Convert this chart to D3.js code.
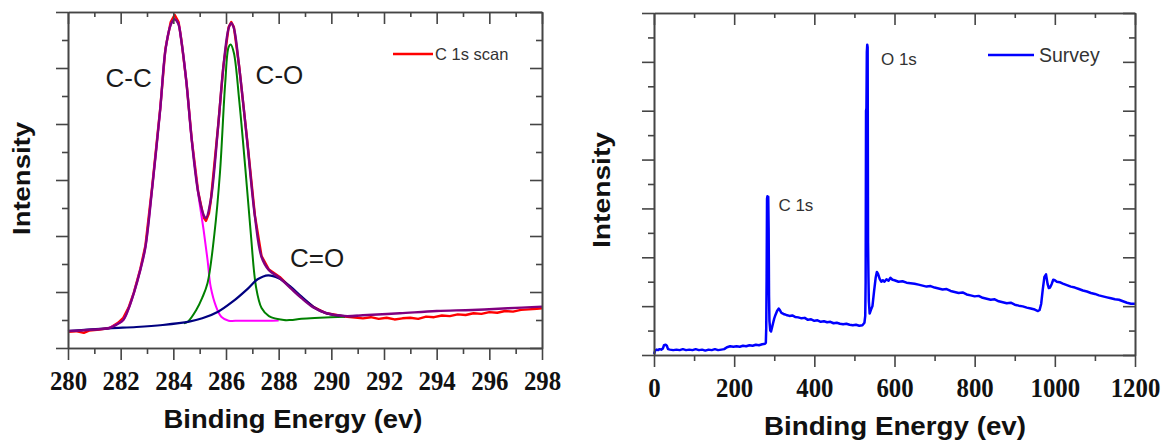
<!DOCTYPE html>
<html>
<head>
<meta charset="utf-8">
<script src="https://cdn.jsdelivr.net/npm/d3@7"></script>
<style>
  html, body { margin: 0; padding: 0; background: #ffffff; }
  svg { display: block; }
</style>
</head>
<body>
<svg id="chart" width="1176" height="444"></svg>
<script>
// ---------------- DATA ----------------
// Left panel: high-resolution C 1s scan (binding energy in eV, intensity in a.u.)
const c1sScan = [
  [280.0,0.29],[280.3,0.30],[280.6,0.27],[280.8,0.31],[281.2,0.33],[281.6,0.36],[281.9,0.45],
  [282.1,0.54],[282.3,0.72],[282.5,0.99],[282.75,1.42],[282.94,1.83],[283.2,2.90],[283.5,4.27],
  [283.7,5.35],[283.9,5.82],[284.05,5.95],[284.2,5.82],[284.3,5.52],[284.5,4.74],[284.7,3.72],
  [284.94,2.80],[285.15,2.33],[285.24,2.27],[285.35,2.40],[285.42,2.62],[285.7,3.96],[285.9,5.03],
  [286.1,5.73],[286.2,5.82],[286.3,5.73],[286.5,5.03],[286.8,3.73],[287.1,2.36],[287.35,1.64],
  [287.63,1.40],[288.04,1.27],[288.45,1.08],[288.87,0.90],[289.3,0.74],[289.8,0.62],[290.2,0.59],
  [290.5,0.56],[290.8,0.55],[291.2,0.53],[291.5,0.55],[291.8,0.52],[292.1,0.54],[292.4,0.51],
  [292.7,0.53],[293.0,0.54],[293.3,0.52],[293.6,0.56],[293.9,0.55],[294.2,0.58],[294.5,0.57],
  [294.8,0.60],[295.1,0.59],[295.4,0.62],[295.7,0.61],[296.0,0.64],[296.3,0.63],[296.6,0.66],
  [296.9,0.65],[297.2,0.68],[297.5,0.69],[297.8,0.70],[298.0,0.71]
];
// Fitted envelope (sum of components)
const fitEnvelope = [
  [280.0,0.304],[280.5,0.312],[281.0,0.33],[281.56,0.357],[281.85,0.42],[282.1,0.50],[282.3,0.70],
  [282.5,0.98],[282.75,1.40],[282.94,1.80],[283.2,2.87],[283.5,4.25],[283.7,5.32],[283.9,5.77],
  [284.04,5.87],[284.18,5.80],[284.3,5.50],[284.5,4.73],[284.7,3.71],[284.94,2.79],[285.15,2.375],
  [285.24,2.32],[285.42,2.64],[285.7,3.95],[285.9,5.02],[286.1,5.71],[286.2,5.80],[286.3,5.71],
  [286.5,5.02],[286.8,3.71],[287.1,2.34],[287.35,1.625],[287.63,1.39],[288.04,1.25],[288.45,1.07],
  [288.87,0.89],[289.3,0.73],[289.8,0.625],[290.5,0.571],[291.2,0.584],[292.6,0.62],[294.0,0.661],
  [295.35,0.679],[296.7,0.709],[298.0,0.738]
];
// C-C component
const peakCC = [
  [281.56,0.357],[281.85,0.42],[282.1,0.50],[282.3,0.70],[282.5,0.98],[282.75,1.40],[282.94,1.80],
  [283.2,2.87],[283.5,4.25],[283.7,5.32],[283.9,5.77],[284.04,5.87],[284.18,5.80],[284.3,5.50],
  [284.5,4.73],[284.7,3.71],[284.94,2.77],[285.15,2.107],[285.3,1.571],[285.42,1.089],[285.63,0.732],
  [285.83,0.554],[286.1,0.488],[286.5,0.488],[287.0,0.488],[287.6,0.488],[288.0,0.49]
];
// C-O component
const peakCO = [
  [284.4,0.44],[284.55,0.47],[284.87,0.679],[285.1,0.90],[285.3,1.161],[285.56,2.04],[285.77,3.125],
  [285.97,4.73],[286.1,5.375],[286.18,5.42],[286.3,5.268],[286.5,4.43],[286.73,3.23],[286.94,2.054],
  [287.14,1.089],[287.35,0.714],[287.63,0.571],[288.2,0.50],[288.45,0.50],[288.87,0.523],
  [289.56,0.54],[290.52,0.559]
];
// C=O component (on background)
const peakCdO = [
  [280.0,0.304],[281.56,0.352],[282.6,0.375],[283.6,0.411],[284.6,0.470],[285.1,0.530],[285.7,0.648],
  [286.25,0.827],[286.8,1.048],[287.2,1.227],[287.6,1.298],[288.0,1.245],[288.45,1.095],[288.87,0.916],
  [289.4,0.709],[289.8,0.620],[290.5,0.571],[291.0,0.575]
];
const leftXTicks = [280, 282, 284, 286, 288, 290, 292, 294, 296, 298];
const leftPeakLabels = [["C-C", 282.3, 4.66], ["C-O", 288.03, 4.71], ["C=O", 289.46, 1.45]];
const leftLegend = "C 1s scan";

// Right panel: survey spectrum
const survey = [
  [0,0.02],[3,0.09],[6,0.11],[10,0.10],[14,0.12],[18,0.11],[22,0.13],[25,0.20],[29,0.21],[32,0.19],
  [35,0.12],[40,0.11],[48,0.10],[56,0.11],[64,0.10],[72,0.12],[80,0.10],[88,0.11],[96,0.10],[104,0.12],
  [112,0.10],[120,0.11],[128,0.09],[136,0.11],[144,0.10],[152,0.12],[160,0.10],[168,0.11],[175,0.12],
  [182,0.16],[190,0.18],[198,0.17],[206,0.18],[214,0.17],[222,0.19],[230,0.18],[238,0.20],[246,0.19],
  [254,0.21],[262,0.20],[270,0.22],[277,0.23],[279,0.25],[280,0.55],[281,1.6],[282,3.2],[283,3.25],
  [284,3.0],[285,3.24],[286,2.6],[287,1.2],[288,0.7],[290,0.50],[292,0.48],[294,0.55],[297,0.65],
  [300,0.75],[303,0.82],[307,0.90],[311,0.95],[314,0.92],[318,0.86],[323,0.84],[330,0.82],[338,0.80],
  [345,0.81],[352,0.78],[360,0.77],[368,0.75],[376,0.76],[384,0.72],[392,0.73],[400,0.70],[408,0.71],
  [416,0.68],[424,0.69],[432,0.67],[440,0.68],[448,0.65],[456,0.66],[464,0.64],[472,0.63],[480,0.64],
  [488,0.62],[496,0.61],[504,0.62],[512,0.60],[520,0.61],[525,0.66],[527,0.80],[528,1.5],[529,5.0],
  [530,5.05],[531,6.2],[532,6.35],[533,6.3],[534,2.3],[535,1.6],[536,1.1],[538,0.85],[541,0.92],
  [545,1.00],[549,1.30],[553,1.58],[556,1.70],[559,1.66],[563,1.56],[567,1.50],[571,1.53],[575,1.50],
  [580,1.55],[585,1.52],[590,1.58],[595,1.54],[600,1.53],[610,1.50],[620,1.51],[630,1.48],[640,1.47],
  [650,1.46],[660,1.44],[670,1.42],[680,1.40],[690,1.41],[700,1.38],[710,1.36],[720,1.34],[730,1.35],
  [740,1.31],[750,1.29],[760,1.27],[770,1.28],[780,1.24],[790,1.22],[800,1.20],[810,1.21],[820,1.17],
  [830,1.15],[840,1.13],[850,1.14],[860,1.10],[870,1.08],[880,1.06],[890,1.07],[900,1.03],[910,1.01],
  [920,0.995],[930,0.97],[940,0.95],[950,0.93],[958,0.90],[962,0.92],[966,1.05],[970,1.35],[974,1.60],
  [978,1.65],[982,1.45],[985,1.37],[988,1.38],[992,1.45],[996,1.54],[1000,1.53],[1005,1.50],[1012,1.49],
  [1020,1.46],[1030,1.43],[1040,1.40],[1050,1.38],[1060,1.35],[1070,1.32],[1080,1.30],[1090,1.27],
  [1100,1.25],[1110,1.22],[1120,1.20],[1130,1.18],[1140,1.16],[1150,1.14],[1160,1.13],[1170,1.10],
  [1180,1.07],[1190,1.05],[1200,1.05]
];
const rightXTicks = [0, 200, 400, 600, 800, 1000, 1200];
const rightPeakLabels = [["C 1s", 354, 2.95], ["O 1s", 611, 5.94]];
const rightLegend = "Survey";

const xTitle = "Binding Energy (ev)";
const yTitle = "Intensity";

// ---------------- DRAWING ----------------
const svg = d3.select("#chart");
svg.append("rect").attr("width", 1176).attr("height", 444).attr("fill", "#fff");

const AXIS = "#454545";
const SERIF = '"Liberation Serif", "Times New Roman"';
const SANS = '"Liberation Sans", Arial';

function styleAxis(sel) {
  sel.select(".domain").attr("stroke", AXIS).attr("stroke-width", 1.6);
  sel.selectAll(".tick line").attr("stroke", AXIS).attr("stroke-width", 1.6);
}

function drawFrame(g, x, y, box, xMajor, xMinor, yMajor, yMinor) {
  // bottom axis with labels
  const b = g.append("g").attr("transform", `translate(0,${box.bottom})`)
    .call(d3.axisBottom(x).tickValues(xMajor).tickSize(12).tickSizeOuter(0).tickFormat(d3.format("d")));
  styleAxis(b);
  b.selectAll("text")
    .attr("y", 42).attr("dy", 0)
    .attr("textLength", d => String(d).length * 12.4)
    .attr("lengthAdjust", "spacingAndGlyphs")
    .style("font-family", SERIF)
    .style("font-weight", "bold").style("font-size", "27px").style("fill", "#111");
  const bm = g.append("g").attr("transform", `translate(0,${box.bottom})`)
    .call(d3.axisBottom(x).tickValues(xMinor).tickSize(6).tickSizeOuter(0).tickFormat(""));
  styleAxis(bm);
  // top mirror axis (ticks pointing into the plot)
  const t = g.append("g").attr("transform", `translate(0,${box.top})`)
    .call(d3.axisBottom(x).tickValues(xMajor).tickSize(12).tickSizeOuter(0).tickFormat(""));
  styleAxis(t);
  const tm = g.append("g").attr("transform", `translate(0,${box.top})`)
    .call(d3.axisBottom(x).tickValues(xMinor).tickSize(5).tickSizeOuter(0).tickFormat(""));
  styleAxis(tm);
  // left axis (outward) and right mirror axis (inward) - no labels
  [box.left, box.right].forEach(px => {
    const l = g.append("g").attr("transform", `translate(${px},0)`)
      .call(d3.axisLeft(y).tickValues(yMajor).tickSize(12).tickSizeOuter(0).tickFormat(""));
    styleAxis(l);
    const lm = g.append("g").attr("transform", `translate(${px},0)`)
      .call(d3.axisLeft(y).tickValues(yMinor).tickSize(6).tickSizeOuter(0).tickFormat(""));
    styleAxis(lm);
  });
  // titles
  g.append("text").attr("x", box.xTitleX).attr("y", box.bottom + 80)
    .attr("text-anchor", "middle")
    .attr("textLength", box.xTitleLen).attr("lengthAdjust", "spacingAndGlyphs")
    .style("font-family", SANS)
    .style("font-weight", "bold").style("font-size", "25px").style("fill", "#111")
    .text(xTitle);
  g.append("text")
    .attr("transform", `translate(${box.yTitleX},${box.yTitleY}) rotate(-90)`)
    .attr("text-anchor", "middle")
    .attr("textLength", box.yTitleLen).attr("lengthAdjust", "spacingAndGlyphs")
    .style("font-family", SANS)
    .style("font-weight", "bold").style("font-size", "24px").style("fill", "#111")
    .text(yTitle);
}

// ----- Left panel -----
{
  const box = { left: 68, right: 542, top: 12, bottom: 348,
    xTitleX: 293, xTitleLen: 259, yTitleX: 30, yTitleY: 178.5, yTitleLen: 113 };
  const x = d3.scaleLinear().domain([280, 298]).range([box.left, box.right]);
  const y = d3.scaleLinear().domain([0, 6]).range([box.bottom, box.top]);
  const g = svg.append("g");
  const lineLin = d3.line().x(d => x(d[0])).y(d => y(d[1]));
  const lineSmooth = d3.line().x(d => x(d[0])).y(d => y(d[1])).curve(d3.curveCatmullRom.alpha(0.5));

  const series = [
    [c1sScan, "#ff0000", lineLin, 2.4],
    [peakCC, "#ff00ff", lineSmooth, 2],
    [peakCO, "#008000", lineSmooth, 2],
    [peakCdO, "#000080", lineSmooth, 2.2],
    [fitEnvelope, "#800080", lineSmooth, 2.4]
  ];
  series.forEach(([data, color, gen, w]) => {
    g.append("path").datum(data).attr("d", gen)
      .attr("fill", "none").attr("stroke", color).attr("stroke-width", w)
      .attr("stroke-linejoin", "round");
  });

  leftPeakLabels.forEach(([t, ex, iv]) => {
    g.append("text").attr("x", x(ex)).attr("y", y(iv))
      .attr("text-anchor", "middle")
      .style("font-family", SANS)
      .style("font-size", "26px").style("fill", "#1a1a1a").text(t);
  });

  // legend
  g.append("line").attr("x1", 393).attr("x2", 433).attr("y1", 54).attr("y2", 54)
    .attr("stroke", "#ff0000").attr("stroke-width", 2.4);
  g.append("text").attr("x", 435).attr("y", 60)
    .style("font-family", SANS)
    .style("font-size", "16.5px").style("fill", "#333").text(leftLegend);

  drawFrame(g, x, y, box, leftXTicks, d3.range(281, 298, 2),
    d3.range(0, 6.01, 1), d3.range(0.5, 6, 1));
}

// ----- Right panel -----
{
  const box = { left: 654, right: 1135, top: 13, bottom: 355,
    xTitleX: 895, xTitleLen: 262, yTitleX: 610, yTitleY: 190, yTitleLen: 116 };
  const x = d3.scaleLinear().domain([0, 1200]).range([box.left, box.right]);
  const y = d3.scaleLinear().domain([0, 7]).range([box.bottom, box.top]);
  const g = svg.append("g");
  const lineLin = d3.line().x(d => x(d[0])).y(d => y(d[1]));

  g.append("path").datum(survey).attr("d", lineLin)
    .attr("fill", "none").attr("stroke", "#0000ff").attr("stroke-width", 2.5)
    .attr("stroke-linejoin", "round");

  rightPeakLabels.forEach(([t, ex, iv]) => {
    g.append("text").attr("x", x(ex)).attr("y", y(iv))
      .attr("text-anchor", "middle")
      .style("font-family", SANS)
      .style("font-size", "17px").style("fill", "#333").text(t);
  });

  g.append("line").attr("x1", 988).attr("x2", 1034).attr("y1", 55).attr("y2", 55)
    .attr("stroke", "#0000ff").attr("stroke-width", 2.5);
  g.append("text").attr("x", 1039).attr("y", 62)
    .style("font-family", SANS)
    .style("font-size", "19.5px").style("fill", "#333").text(rightLegend);

  drawFrame(g, x, y, box, rightXTicks, d3.range(100, 1200, 200),
    d3.range(0, 7.01, 1), d3.range(0.5, 7, 1));
}
</script>
</body>
</html>
